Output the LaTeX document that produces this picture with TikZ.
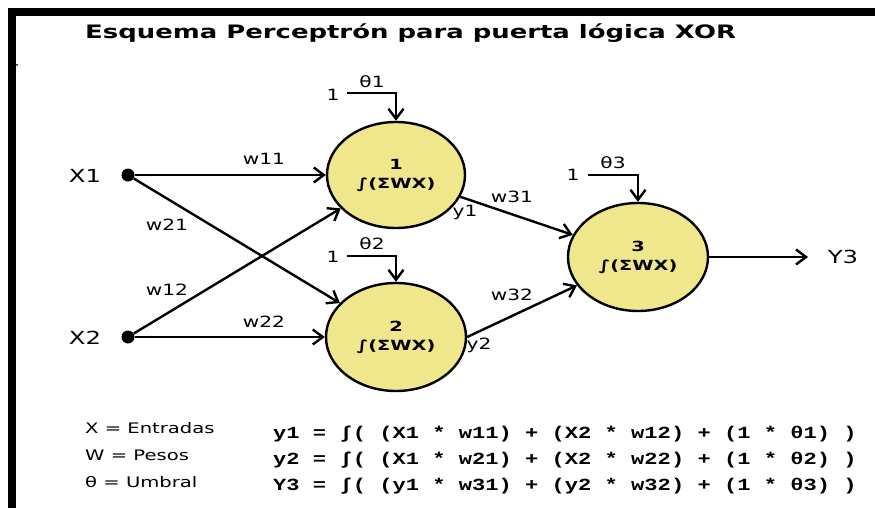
\documentclass[tikz,border=0pt]{standalone}
\usepackage{fontspec}
\setmainfont{DejaVu Sans}
% wide-set faces for the labels, title and equations
\newfontfamily\lblfont[FakeStretch=1.3]{DejaVu Sans}
\newfontfamily\iofont[FakeStretch=1.35]{DejaVu Sans}
\newfontfamily\legfont[FakeStretch=1.35]{DejaVu Sans}
\newfontfamily\ttlfont[FakeStretch=1.40]{DejaVu Sans}
\newfontfamily\cellfont[FakeStretch=1.38]{DejaVu Sans}
\newfontfamily\eqfont[FakeStretch=1.3]{Liberation Mono}
\usetikzlibrary{arrows.meta,shapes.geometric}
\definecolor{neuronfill}{RGB}{240,230,140}

\begin{document}
\begin{tikzpicture}[x=1pt,y=-1pt,
  neuron/.style={ellipse, draw, line width=2.4pt, fill=neuronfill,
    minimum width=138pt, minimum height=106pt, inner sep=0pt, align=center,
    font=\cellfont\bfseries\fontsize{14}{19}\selectfont},
  conn/.style={line width=2.4pt, -{Straight Barb[length=10pt,width=15pt]}},
  bias/.style={line width=2.4pt, -{Straight Barb[length=10pt,width=15pt]}},
  inputdot/.style={circle, fill=black, inner sep=0pt, minimum size=13pt},
  wlabel/.style={font=\lblfont\fontsize{15.5}{15.5}\selectfont, inner sep=0pt},
  iolabel/.style={font=\iofont\fontsize{18}{18}\selectfont, inner sep=0pt},
  legend/.style={font=\legfont\fontsize{14.5}{14.5}\selectfont, anchor=base west, inner sep=0pt},
  formula/.style={font=\eqfont\bfseries\fontsize{17}{17}\selectfont, anchor=base west, inner sep=0pt},
]
% canvas and frame bars
\fill[white] (0,0) rectangle (875,508);
\fill[black] (8,8) rectangle (875,16);
\fill[black] (8,8) rectangle (16,508);
\fill[black] (17,65) circle (1pt);

% title
\node[font=\ttlfont\bfseries\fontsize{18.5}{18.5}\selectfont, anchor=base west, inner sep=0pt]
  (title) at (85,38.5) {Esquema Perceptrón para puerta lógica XOR};

% neurons
\node[neuron] (n1) at (396,175) {1\\∫(ΣWX)};
\node[neuron, minimum width=140pt, minimum height=108pt] (n2) at (396,337) {2\\∫(ΣWX)};
\node[neuron, minimum width=140pt, minimum height=108pt] (n3) at (638,257) {3\\∫(ΣWX)};

% inputs
\node[inputdot] (x1) at (128,175) {};
\node[inputdot] (x2) at (128,337) {};
\node[iolabel] (lx1) at (85,176) {X1};
\node[iolabel] (lx2) at (85,338) {X2};

% input connections
\draw[conn] (x1) -- (n1);
\draw[conn] (x2) -- (n2);
\draw[conn] (x1) -- (n2);
\draw[conn] (x2) -- (n1);

% hidden to output
\draw[conn] (n1) -- (n3);
\draw[conn] (n2.east) -- (n3.205);

% output
\coordinate (yend) at (808,257);
\draw[conn] (n3.east) -- (yend);
\node[iolabel] (ly3) at (843,257) {Y3};

% bias inputs
\coordinate (b1) at (347,93);
\coordinate (b2) at (347,256);
\coordinate (b3) at (588,175);
\draw[bias] (b1) -| (n1.north);
\draw[bias] (b2) -| (n2.north);
\draw[bias] (b3) -| (n3.north);
\node[wlabel] (one1) at (333,95) {1};
\node[wlabel] (one2) at (333,257) {1};
\node[wlabel] (one3) at (573,175) {1};
\node[wlabel] (t1) at (372,82) {θ1};
\node[wlabel] (t2) at (372,244) {θ2};
\node[wlabel] (t3) at (613,163) {θ3};

% weight and output labels
\node[wlabel] (w11) at (264,159) {w11};
\node[wlabel] (w21) at (167,225) {w21};
\node[wlabel] (w12) at (167,290) {w12};
\node[wlabel] (w22) at (264,322) {w22};
\node[wlabel] (w31) at (512,197) {w31};
\node[wlabel] (w32) at (512,295) {w32};
\node[wlabel] (y1) at (465,212) {y1};
\node[wlabel] (y2) at (479,345) {y2};

% legend
\node[legend] (lg1) at (85,433) {X = Entradas};
\node[legend] (lg2) at (85,460) {W = Pesos};
\node[legend] (lg3) at (85,487) {θ = Umbral};

% formulas
\node[formula] (f1) at (273,438) {y1 = ∫( (X1 * w11) + (X2 * w12) + (1 * θ1) )};
\node[formula] (f2) at (273,464) {y2 = ∫( (X1 * w21) + (X2 * w22) + (1 * θ2) )};
\node[formula] (f3) at (273,490) {Y3 = ∫( (y1 * w31) + (y2 * w32) + (1 * θ3) )};
\end{tikzpicture}
\end{document}
